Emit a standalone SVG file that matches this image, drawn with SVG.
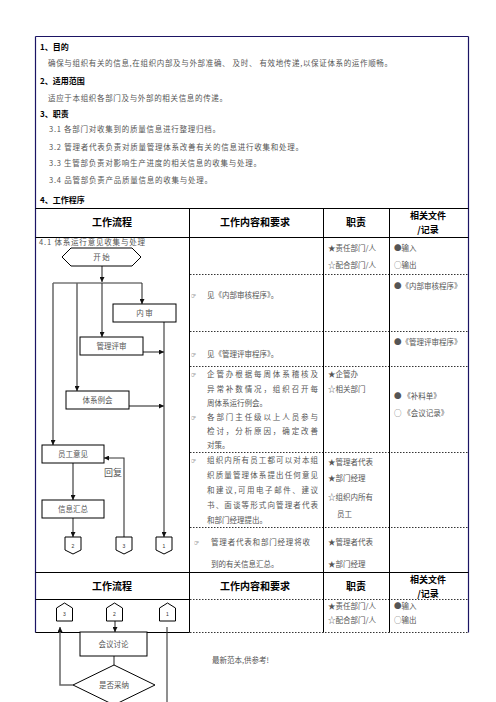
<svg xmlns="http://www.w3.org/2000/svg" width="496" height="702" viewBox="0 0 496 702">
<style>
text{font-family:"Noto Sans CJK SC","DejaVu Sans",sans-serif;}
.h{font-size:8px;font-weight:bold;fill:#000;}
.b{font-size:7.5px;fill:#555;}
.th{font-size:10px;font-weight:bold;fill:#000;text-anchor:middle;}
.th2{font-size:9px;font-weight:bold;fill:#000;text-anchor:middle;}
.c{font-size:7.5px;fill:#555;}
.bl{font-size:6px;fill:#222;font-family:"DejaVu Sans",sans-serif;}
.fl{font-size:7.5px;fill:#555;text-anchor:middle;}
.pl{font-size:5px;fill:#333;text-anchor:middle;font-family:"Liberation Sans",sans-serif;}
.solid{stroke:#000;stroke-width:1;fill:none;}
.nav{stroke:#1b1464;stroke-width:1.2;fill:none;}
.dot{stroke:#000;stroke-width:0.8;stroke-dasharray:1.5 1.5;fill:none;}
.box{fill:#fff;stroke:#000;stroke-width:1;}
.ln{stroke:#333;stroke-width:1.1;fill:none;}
.lg{stroke:#666;stroke-width:1.5;fill:none;}
</style>
<defs>
<marker id="ah" viewBox="0 0 10 10" refX="10" refY="5" markerWidth="5" markerHeight="5" markerUnits="userSpaceOnUse" orient="auto">
<path d="M0,0 L10,5 L0,10 z" fill="#111"/>
</marker>
</defs>
<rect width="496" height="702" fill="#fff"/>

<g id="frame">
<line class="nav" x1="35.5" y1="36.5" x2="468.5" y2="36.5"/>
<line class="nav" x1="35.5" y1="36.5" x2="35.5" y2="632.5"/>
<line class="nav" x1="468.5" y1="36.5" x2="468.5" y2="632.5"/>
<line class="solid" x1="35.5" y1="208.5" x2="468.5" y2="208.5"/>
<line class="solid" x1="35.5" y1="237.5" x2="468.5" y2="237.5"/>
<line class="solid" x1="189.5" y1="208.5" x2="189.5" y2="632.5"/>
<line class="solid" x1="323.5" y1="208.5" x2="323.5" y2="632.5"/>
<line class="solid" x1="389.5" y1="208.5" x2="389.5" y2="632.5"/>
<line class="dot" x1="190" y1="274.5" x2="468" y2="274.5"/>
<line class="dot" x1="190" y1="331.5" x2="468" y2="331.5"/>
<line class="dot" x1="190" y1="366.5" x2="468" y2="366.5"/>
<line class="dot" x1="190" y1="452.5" x2="468" y2="452.5"/>
<line class="dot" x1="190" y1="527.5" x2="468" y2="527.5"/>
<line class="solid" x1="35.5" y1="572.5" x2="468.5" y2="572.5"/>
<line class="solid" x1="35.5" y1="599.5" x2="189.5" y2="599.5"/>
<line class="dot" x1="190" y1="599.5" x2="468" y2="599.5"/>
<line class="solid" x1="35.5" y1="632.5" x2="189.5" y2="632.5"/>
<line class="dot" x1="190" y1="632.5" x2="468" y2="632.5"/>
</g>

<g id="intro">
<text class="h" x="40" y="50">1、目的</text>
<text class="b" x="48" y="66" textLength="344" lengthAdjust="spacing">确保与组织有关的信息,在组织内部及与外部准确、 及时、 有效地传递,以保证体系的运作顺畅。</text>
<text class="h" x="40" y="84">2、适用范围</text>
<text class="b" x="48" y="101" textLength="179" lengthAdjust="spacing">适应于本组织各部门及与外部的相关信息的传递。</text>
<text class="h" x="40" y="117">3、职责</text>
<text class="b" x="49" y="132" textLength="171" lengthAdjust="spacing">3.1  各部门对收集到的质量信息进行整理归档。</text>
<text class="b" x="49" y="150" textLength="254" lengthAdjust="spacing">3.2  管理者代表负责对质量管理体系改善有关的信息进行收集和处理。</text>
<text class="b" x="49" y="166" textLength="212" lengthAdjust="spacing">3.3  生管部负责对影响生产进度的相关信息的收集与处理。</text>
<text class="b" x="49" y="183" textLength="163" lengthAdjust="spacing">3.4  品管部负责产品质量信息的收集与处理。</text>
<text class="h" x="40" y="203">4、工作程序</text>
</g>

<g id="header1">
<text class="th" x="112" y="226">工作流程</text>
<text class="th" x="255" y="226">工作内容和要求</text>
<text class="th" x="356" y="226">职责</text>
<text class="th2" x="428" y="219">相关文件</text>
<text class="th2" x="428" y="233">/记录</text>
</g>

<g id="rows1">
<text class="c" x="328" y="251">★责任部门/人</text>
<text class="c" x="328" y="268">☆配合部门/人</text>
<text class="c" x="394" y="251">●输入</text>
<text class="c" x="394" y="268">○输出</text>

<text class="bl" x="191" y="298">☞</text>
<text class="c" x="207" y="298">见《内部审核程序》。</text>
<text class="c" x="394" y="289">●《内部审核程序》</text>

<text class="bl" x="191" y="357">☞</text>
<text class="c" x="207" y="357">见《管理评审程序》。</text>
<text class="c" x="394" y="345">●《管理评审程序》</text>

<text class="bl" x="191" y="377">☞</text>
<text class="c" x="207" y="377" textLength="111" lengthAdjust="spacing">企管办根据每周体系稽核及</text>
<text class="c" x="207" y="392" textLength="111" lengthAdjust="spacing">异常补数情况，组织召开每</text>
<text class="c" x="207" y="406">周体系运行例会。</text>
<text class="bl" x="191" y="420">☞</text>
<text class="c" x="207" y="420" textLength="111" lengthAdjust="spacing">各部门主任级以上人员参与</text>
<text class="c" x="207" y="434" textLength="111" lengthAdjust="spacing">检讨，分析原因，确定改善</text>
<text class="c" x="207" y="448">对策。</text>
<text class="c" x="328" y="377">★企管办</text>
<text class="c" x="328" y="392">☆相关部门</text>
<text class="c" x="394" y="399">● 《补料单》</text>
<text class="c" x="394" y="416">○ 《会议记录》</text>

<text class="bl" x="191" y="463">☞</text>
<text class="c" x="207" y="463" textLength="111" lengthAdjust="spacing">组织内所有员工都可以对本组</text>
<text class="c" x="207" y="478" textLength="111" lengthAdjust="spacing">织质量管理体系提出任何意见</text>
<text class="c" x="207" y="493" textLength="111" lengthAdjust="spacing">和建议,可用电子邮件、建议</text>
<text class="c" x="207" y="508" textLength="111" lengthAdjust="spacing">书、面谈等形式向管理者代表</text>
<text class="c" x="207" y="523">和部门经理提出。</text>
<text class="c" x="328" y="465">★管理者代表</text>
<text class="c" x="328" y="481">★部门经理</text>
<text class="c" x="328" y="500">☆组织内所有</text>
<text class="c" x="337" y="517">员工</text>

<text class="bl" x="194" y="545">☞</text>
<text class="c" x="211" y="545" textLength="99" lengthAdjust="spacing">管理者代表和部门经理将收</text>
<text class="c" x="211" y="567">到的有关信息汇总。</text>
<text class="c" x="328" y="545">★管理者代表</text>
<text class="c" x="328" y="567">★部门经理</text>
</g>

<g id="header2">
<text class="th" x="112" y="590">工作流程</text>
<text class="th" x="255" y="590">工作内容和要求</text>
<text class="th" x="356" y="590">职责</text>
<text class="th2" x="428" y="583">相关文件</text>
<text class="th2" x="428" y="597">/记录</text>
</g>

<g id="rows2">
<text class="c" x="328" y="609">★责任部门/人</text>
<text class="c" x="328" y="623">☆配合部门/人</text>
<text class="c" x="394" y="609">●输入</text>
<text class="c" x="394" y="623">○输出</text>
<text class="c" x="212" y="663">最新范本,供参考!</text>
</g>

<text class="c" x="39" y="245" textLength="106" lengthAdjust="spacing">4.1 体系运行意见收集与处理</text>

<g id="connectors">
<line class="ln" x1="102" y1="266" x2="102" y2="282" marker-end="url(#ah)"/>
<line class="ln" x1="53" y1="283" x2="142" y2="283"/>
<line class="ln" x1="102" y1="283" x2="102" y2="337" marker-end="url(#ah)"/>
<line class="ln" x1="142" y1="283" x2="142" y2="304" marker-end="url(#ah)"/>
<line class="lg" x1="77" y1="283" x2="77" y2="391" marker-end="url(#ah)"/>
<line class="lg" x1="53" y1="283" x2="53" y2="445" marker-end="url(#ah)"/>
<line class="ln" x1="164" y1="322" x2="164" y2="537" marker-end="url(#ah)"/>
<line class="ln" x1="143" y1="352" x2="164" y2="352" marker-end="url(#ah)"/>
<line class="lg" x1="129" y1="406" x2="164" y2="406" marker-end="url(#ah)"/>
<line class="lg" x1="73" y1="463" x2="73" y2="500" marker-end="url(#ah)"/>
<line class="ln" x1="73" y1="518" x2="73" y2="537" marker-end="url(#ah)"/>
<polyline class="ln" points="124,537 124,458 104,458" marker-end="url(#ah)"/>
<line class="ln" x1="115" y1="621" x2="115" y2="632" marker-end="url(#ah)"/>
<line class="ln" x1="114" y1="656" x2="114" y2="665"/>
<polyline class="lg" points="73,685 60,685 60,627" marker-end="url(#ah)"/>
<line class="ln" x1="167" y1="627" x2="167" y2="702"/>
</g>
<text class="fl" x="113" y="476" style="font-size:9px">回复</text>

<g id="start">
<polygon class="box" points="62,257 71,248 132,248 141,257 132,266 71,266"/>
<text class="fl" x="101.5" y="260">开    始</text>
</g>
<g id="neishen">
<rect class="box" x="113" y="304" width="63" height="18"/>
<text class="fl" x="144.5" y="316">内    审</text>
</g>
<g id="guanlipingshen">
<rect class="box" x="80" y="337" width="63" height="18"/>
<text class="fl" x="111.5" y="349">管理评审</text>
</g>
<g id="tixilihui">
<rect class="box" x="66" y="391" width="63" height="18"/>
<text class="fl" x="97.5" y="403">体系例会</text>
</g>
<g id="yuangongyijian">
<rect class="box" x="42" y="445" width="62" height="18"/>
<text class="fl" x="73" y="457">员工意见</text>
</g>
<g id="xinxihuizong">
<rect class="box" x="42" y="500" width="62" height="18"/>
<text class="fl" x="73" y="512">信息汇总</text>
</g>
<g id="off2a">
<polygon class="box" points="65,537 81,537 81,550 73,554 65,550"/>
<text class="pl" x="73" y="548">2</text>
</g>
<g id="off3a">
<polygon class="box" points="116,537 132,537 132,550 124,554 116,550"/>
<text class="pl" x="124" y="548">3</text>
</g>
<g id="off1a">
<polygon class="box" points="156,537 172,537 172,550 164,554 156,550"/>
<text class="pl" x="164" y="548">1</text>
</g>
<g id="off3b">
<polygon class="box" points="64.5,603 72.5,608 72.5,621 56.5,621 56.5,608"/>
<text class="pl" x="64.5" y="616">3</text>
</g>
<g id="off2b">
<polygon class="box" points="114.5,603 122.5,608 122.5,621 106.5,621 106.5,608"/>
<text class="pl" x="114.5" y="616">2</text>
</g>
<g id="off1b">
<polygon class="box" points="167.5,603 175.5,608 175.5,621 159.5,621 159.5,608"/>
<text class="pl" x="167.5" y="616">1</text>
</g>
<g id="huiyitaolun">
<rect class="box" x="80" y="632" width="67" height="24"/>
<text class="fl" x="113.5" y="647">会议讨论</text>
</g>
<g id="shifoucaina">
<polygon class="box" points="114,665 155,685 114,705 73,685"/>
<text class="fl" x="114" y="688">是否采纳</text>
</g>
</svg>
